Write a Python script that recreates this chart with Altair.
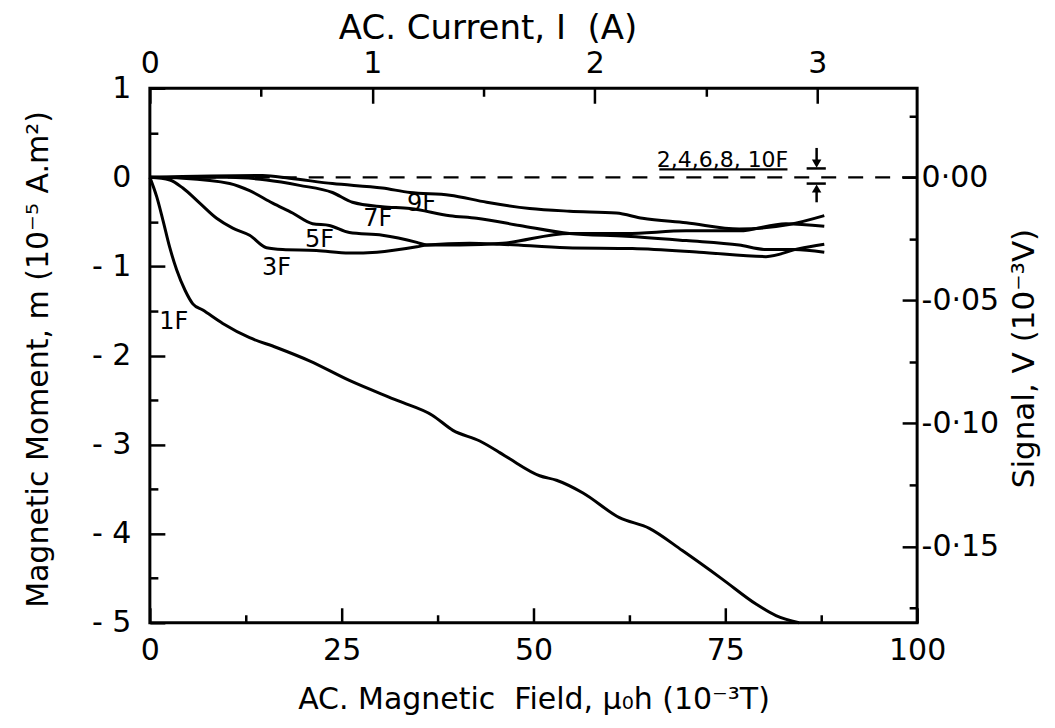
import altair as alt
import pandas as pd

# ---------------- data ----------------
# AC magnetic field (10^-3 T) and magnetic moment (10^-5 A.m^2) per curve
F1_FIELD = [0, 0.9, 1.7, 2.6, 3.5, 4.6, 5.6, 6.9, 9.5, 13.0, 16.5, 20.8, 26.0, 32.4,
            36.8, 39.5, 43.0, 45.6, 46.9, 50.8, 53.0, 56.4, 61.2, 65.1, 69.4, 74.6,
            79.0, 81.6, 84.6]
F1_M = [0, -0.22, -0.48, -0.79, -1.04, -1.27, -1.42, -1.49, -1.64, -1.80, -1.91, -2.06,
        -2.28, -2.51, -2.67, -2.84, -2.96, -3.09, -3.16, -3.35, -3.40, -3.54, -3.82,
        -3.94, -4.19, -4.51, -4.79, -4.92, -5.0]

F3_FIELD = [0, 2.6, 4.3, 6.5, 8.7, 10.8, 13.0, 15.2, 17.3, 21.7, 26.0, 29.6, 34.8, 36.1,
            41.7, 45.6, 54.3, 62.9, 71.6, 80.3, 84.6, 87.9]
F3_M = [0, -0.03, -0.12, -0.29, -0.46, -0.57, -0.65, -0.79, -0.81, -0.82, -0.85, -0.84,
        -0.78, -0.76, -0.74, -0.75, -0.79, -0.80, -0.84, -0.89, -0.80, -0.75]

F5_FIELD = [0, 4.3, 10.4, 13.0, 16.0, 18.6, 21.2, 23.4, 26.0, 30.3, 34.8, 36.1, 40.4,
            46.0, 54.7, 62.1, 69.9, 76.8, 82.9, 87.9]
F5_M = [0, -0.01, -0.07, -0.15, -0.29, -0.40, -0.52, -0.54, -0.62, -0.65, -0.73, -0.76,
        -0.76, -0.74, -0.63, -0.63, -0.60, -0.60, -0.52, -0.55]

F7_FIELD = [0, 10.4, 15.2, 19.5, 23.8, 26.4, 30.3, 33.9, 39.1, 42.6, 48.2, 54.7, 62.1,
            69.9, 76.8, 80.3, 84.0, 87.9]
F7_M = [0, 0, -0.03, -0.09, -0.17, -0.28, -0.33, -0.35, -0.43, -0.46, -0.54, -0.63, -0.66,
        -0.71, -0.76, -0.81, -0.81, -0.84]

F9_FIELD = [0, 14.7, 18.2, 23.8, 30.3, 33.9, 39.1, 43.9, 49.5, 54.7, 60.8, 64.2, 69.9,
            76.8, 83.3, 87.9]
F9_M = [0, 0.02, -0.01, -0.07, -0.12, -0.17, -0.20, -0.28, -0.35, -0.38, -0.40, -0.46,
        -0.51, -0.58, -0.53, -0.43]

CURVE_NAMES = ["1F", "3F", "5F", "7F", "9F"]
LABEL_FIELD = [3.1, 16.5, 22.1, 29.7, 35.4]
LABEL_M = [-1.62, -1.02, -0.70, -0.47, -0.30]

X_MAJOR = [0, 25, 50, 75, 100]
X_MINOR = [12.5, 37.5, 62.5, 87.5]
Y_MAJOR = [1, 0, -1, -2, -3, -4, -5]
Y_MINOR = [0.5, -0.5, -1.5, -2.5, -3.5, -4.5]
I_MAJOR = [0, 1, 2, 3]
I_MINOR = [0.5, 1.5, 2.5]
V_MAJOR = [0.0, -0.05, -0.10, -0.15]
V_MINOR = [0.025, -0.025, -0.075, -0.125, -0.175]
ZERO = [0]

MT_PER_AMP = 29.0       # 10^-3 T per A
MV_PER_UNIT = 0.0362    # 10^-3 V per 10^-5 A.m^2

ANNOT_TEXT = "2,4,6,8, 10F"
ANNOT_FIELD = 83.2
ANNOT_M = 0.19
UNDERLINE_FIELD = [66.4, 83.1]
UNDERLINE_M = 0.09
ARROW_FIELD = 86.9
BAR_FIELD = [85.6, 88.1]
ARROW_DOWN_STEM = [0.33, 0.15]
ARROW_UP_STEM = [-0.12, -0.28]
BAR_M = [0.10, -0.07]
HEAD_M = [0.155, -0.125]

# ---------------- build tables ----------------
curve_rows = []
for name, xs, ys in zip(CURVE_NAMES, [F1_FIELD, F3_FIELD, F5_FIELD, F7_FIELD, F9_FIELD],
                        [F1_M, F3_M, F5_M, F7_M, F9_M]):
    for i, (a, b) in enumerate(zip(xs, ys)):
        curve_rows.append({"series": name, "field": a, "m": b, "order": i})
curves = pd.DataFrame(curve_rows)
labels = pd.DataFrame({"name": CURVE_NAMES, "field": LABEL_FIELD, "m": LABEL_M})

FONT = "DejaVu Sans"
LAB = 30
NB = "\u00a0"

XS = alt.Scale(domain=[0, 100], nice=False, zero=False)
YS = alt.Scale(domain=[-5, 1], nice=False, zero=False)
IS = alt.Scale(domain=[0, 100 / MT_PER_AMP], nice=False, zero=False)
VS = alt.Scale(domain=[-5 * MV_PER_UNIT, 1 * MV_PER_UNIT], nice=False, zero=False)

common = dict(grid=False, domain=False, tickColor="black", tickWidth=2.5,
              labelColor="black", titleColor="black", labelFont=FONT, titleFont=FONT,
              labelFontSize=LAB, labelFontWeight="normal", titleFontWeight="normal",
              labelFlush=False, labelOverlap=False)


def minor_axis(orient, values, length=8):
    return alt.Axis(orient=orient, values=values, offset=-length, tickSize=length,
                    labels=False, title=None, **common)


lines = alt.Chart(curves).mark_line(color="black", strokeWidth=3, interpolate="monotone").encode(
    x=alt.X("field:Q", scale=XS, axis=alt.Axis(
        orient="bottom", values=X_MAJOR, format="d", offset=-15, tickSize=15, labelPadding=13,
        title=f"AC. Magnetic{NB} Field,{NB}\u03bc\u2080h{NB}(10\u207b\u00b3T)",
        titleFontSize=30, titleBaseline="middle", titleY=92, **common)),
    y=alt.Y("m:Q", scale=YS, axis=alt.Axis(
        orient="left", values=Y_MAJOR, offset=-15, tickSize=15, labelPadding=19,
        labelExpr="datum.value < 0 ? '- ' + (-datum.value) : '' + datum.value",
        title="Magnetic Moment, m (10\u207b\u2075 A.m\u00b2)",
        titleFontSize=30, titleBaseline="middle", titleX=-126, titleY=271, **common)),
    detail="series:N",
    order="order:Q",
)

zero_line = alt.Chart(pd.DataFrame({"m": ZERO})).mark_rule(
    color="black", strokeWidth=2.4, strokeDash=[15, 12]).encode(
    y=alt.Y("m:Q", scale=YS, axis=minor_axis("left", Y_MINOR)),
)

curve_labels = alt.Chart(labels).mark_text(
    font=FONT, fontSize=24, color="black", align="center", baseline="middle").encode(
    x=alt.X("field:Q", scale=XS, axis=minor_axis("bottom", X_MINOR)),
    y=alt.Y("m:Q", scale=YS, axis=None),
    text="name:N",
)

annot = alt.Chart(pd.DataFrame({"field": [ANNOT_FIELD], "m": [ANNOT_M], "t": [ANNOT_TEXT]})).mark_text(
    font=FONT, fontSize=22, color="black", align="right", baseline="middle").encode(
    x=alt.X("field:Q", scale=XS, axis=None),
    y=alt.Y("m:Q", scale=YS, axis=None),
    text="t:N",
)

underline = alt.Chart(pd.DataFrame({"x1": [UNDERLINE_FIELD[0]], "x2": [UNDERLINE_FIELD[1]],
                                    "m": [UNDERLINE_M]})).mark_rule(color="black", strokeWidth=2.2).encode(
    x=alt.X("x1:Q", scale=XS, axis=None), x2="x2:Q",
    y=alt.Y("m:Q", scale=YS, axis=None),
)

bars = alt.Chart(pd.DataFrame({"x1": [BAR_FIELD[0]] * 2, "x2": [BAR_FIELD[1]] * 2,
                               "m": BAR_M})).mark_rule(color="black", strokeWidth=2.5).encode(
    x=alt.X("x1:Q", scale=XS, axis=None), x2="x2:Q",
    y=alt.Y("m:Q", scale=YS, axis=None),
)

stems = alt.Chart(pd.DataFrame({"field": [ARROW_FIELD] * 2,
                                "m1": [ARROW_DOWN_STEM[0], ARROW_UP_STEM[0]],
                                "m2": [ARROW_DOWN_STEM[1], ARROW_UP_STEM[1]]})).mark_rule(
    color="black", strokeWidth=2.5).encode(
    x=alt.X("field:Q", scale=XS, axis=None),
    y=alt.Y("m1:Q", scale=YS, axis=None), y2="m2:Q",
)

heads = alt.Chart(pd.DataFrame({"field": [ARROW_FIELD] * 2, "m": HEAD_M,
                                "shape": ["triangle-down", "triangle-up"]})).mark_point(
    filled=True, color="black", size=90, opacity=1).encode(
    x=alt.X("field:Q", scale=XS, axis=None),
    y=alt.Y("m:Q", scale=YS, axis=None),
    shape=alt.Shape("shape:N", scale=None, legend=None),
)

top_right_major = alt.Chart(pd.DataFrame({"I": I_MAJOR[:1], "V": V_MAJOR[:1]})).mark_point(opacity=0).encode(
    x=alt.X("I:Q", scale=IS, axis=alt.Axis(
        orient="top", values=I_MAJOR, format="d", offset=-15, tickSize=15, labelPadding=10,
        title=f"AC.{NB}Current,{NB}I{NB}{NB}(A)", titleFontSize=34,
        titleBaseline="middle", titleX=338, titleY=-75, **common)),
    y=alt.Y("V:Q", scale=VS, axis=alt.Axis(
        orient="right", values=V_MAJOR, offset=-15, tickSize=15, labelPadding=4,
        labelExpr="datum.value < 0 ? '-' + replace(format(-datum.value, '.2f'), '.', '\u00b7') : replace(format(datum.value, '.2f'), '.', '\u00b7')",
        title="Signal, V (10\u207b\u00b3V)", titleFontSize=31, titleAngle=270,
        titleBaseline="middle", titleAlign="center", titleX=122, titleY=270, **common)),
)

top_right_minor = alt.Chart(pd.DataFrame({"I": I_MINOR[:1], "V": V_MINOR[:1]})).mark_point(opacity=0).encode(
    x=alt.X("I:Q", scale=IS, axis=minor_axis("top", I_MINOR)),
    y=alt.Y("V:Q", scale=VS, axis=minor_axis("right", V_MINOR)),
)

chart = alt.layer(
    lines, zero_line, curve_labels, annot, underline, bars, stems, heads,
    top_right_major, top_right_minor,
).resolve_scale(x="independent", y="independent").resolve_axis(
    x="independent", y="independent"
).properties(
    width=768, height=535,
    autosize=alt.AutoSizeParams(type="none"),
    padding={"left": 142, "top": 80, "right": 130, "bottom": 96},
    background="white",
).configure_view(stroke="black", strokeWidth=3)

chart.save("out.html", embed_options={"renderer": "svg", "actions": False})
